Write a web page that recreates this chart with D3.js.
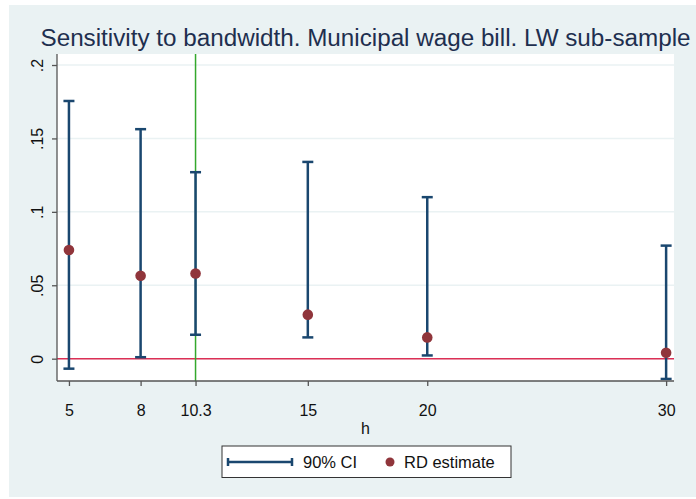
<!DOCTYPE html>
<html lang="en">
<head>
    <meta charset="utf-8">
    <title>Sensitivity to bandwidth</title>
    <style>
        body { margin: 0; background: #fff; }
        text { font-family: "Liberation Sans", Arial, sans-serif; fill: #111; }
    </style>
</head>
<body>
<script src="https://cdn.jsdelivr.net/npm/d3@7"></script>
<script>
    // data
    var bandwidths = [5, 8, 10.3, 15, 20, 30];
    var estimates = [0.074, 0.0565, 0.058, 0.030, 0.0145, 0.004];
    var ciLower = [-0.0068, 0.001, 0.0163, 0.0145, 0.0022, -0.0138];
    var ciUpper = [0.1755, 0.1563, 0.127, 0.134, 0.110, 0.077];
    var xTicks = [5, 8, 10.3, 15, 20, 30];
    var yTicks = [0, 0.05, 0.1, 0.15, 0.2];
    var yTickLabels = ["0", ".05", ".1", ".15", ".2"];
    var optimalH = 10.3;

    var W = 696, H = 499;
    var margin = {top: 54, right: 22, bottom: 118, left: 57},
        width = W - margin.left - margin.right,
        height = H - margin.top - margin.bottom;

    var x = d3.scaleLinear().domain([4.5, 30.33]).range([0, width]);
    var y = d3.scaleLinear().domain([-0.0152, 0.2075]).range([height, 0]);

    var svg = d3.select("body").append("svg")
        .attr("width", W)
        .attr("height", H);

    // outer background
    svg.append("rect")
        .attr("x", 9).attr("y", 5)
        .attr("width", W - 9).attr("height", H - 7)
        .attr("fill", "#eaf2f3");

    var g = svg.append("g")
        .attr("transform", "translate(" + margin.left + "," + margin.top + ")");

    g.append("rect")
        .attr("width", width).attr("height", height)
        .attr("fill", "#fff");

    // grid lines
    g.selectAll(".grid")
        .data(yTicks)
        .enter().append("line")
        .attr("x1", 0).attr("x2", width)
        .attr("y1", function(d) { return y(d); })
        .attr("y2", function(d) { return y(d); })
        .attr("stroke", "#eaf2f3")
        .attr("stroke-width", 1.5);

    // zero line
    g.append("line")
        .attr("x1", 0).attr("x2", width)
        .attr("y1", y(0)).attr("y2", y(0))
        .attr("stroke", "#dc2f55")
        .attr("stroke-width", 1.5);

    // optimal bandwidth line
    g.append("line")
        .attr("x1", x(optimalH)).attr("x2", x(optimalH))
        .attr("y1", 0).attr("y2", height)
        .attr("stroke", "#34a82c")
        .attr("stroke-width", 1.5);

    // confidence intervals
    var ci = g.selectAll(".ci")
        .data(bandwidths)
        .enter().append("g")
        .attr("class", "ci")
        .attr("stroke", "#1a476f")
        .attr("stroke-width", 2.5);
    ci.append("line")
        .attr("x1", function(d) { return x(d); })
        .attr("x2", function(d) { return x(d); })
        .attr("y1", function(d, i) { return y(ciLower[i]); })
        .attr("y2", function(d, i) { return y(ciUpper[i]); });
    ci.append("line")
        .attr("x1", function(d) { return x(d) - 5.5; })
        .attr("x2", function(d) { return x(d) + 5.5; })
        .attr("y1", function(d, i) { return y(ciLower[i]); })
        .attr("y2", function(d, i) { return y(ciLower[i]); });
    ci.append("line")
        .attr("x1", function(d) { return x(d) - 5.5; })
        .attr("x2", function(d) { return x(d) + 5.5; })
        .attr("y1", function(d, i) { return y(ciUpper[i]); })
        .attr("y2", function(d, i) { return y(ciUpper[i]); });

    // point estimates
    g.selectAll(".dot")
        .data(bandwidths)
        .enter().append("circle")
        .attr("cx", function(d) { return x(d); })
        .attr("cy", function(d, i) { return y(estimates[i]); })
        .attr("r", 5.3)
        .attr("fill", "#90353b");

    // axes
    var xAxis = g.append("g")
        .attr("transform", "translate(0," + height + ")")
        .call(d3.axisBottom(x).tickValues(xTicks).tickSize(5).tickPadding(19)
            .tickFormat(function(d) { return String(d); }));
    var yAxis = g.append("g")
        .call(d3.axisLeft(y).tickValues(yTicks).tickSize(5).tickPadding(0)
            .tickFormat(function(d, i) { return yTickLabels[i]; }));

    [xAxis, yAxis].forEach(function(ax) {
        ax.select(".domain").attr("stroke", "#555").attr("stroke-width", 1.3);
        ax.selectAll(".tick line").attr("stroke", "#555").attr("stroke-width", 1.3);
        ax.selectAll("text").style("font-size", "16px").attr("fill", "#111");
    });
    // Stata-like rotated y labels
    yAxis.selectAll(".tick text")
        .attr("x", null).attr("dy", null)
        .attr("text-anchor", "middle")
        .attr("transform", "translate(-14,0) rotate(-90)");
    xAxis.select(".domain").attr("d", "M0,0H" + width);
    yAxis.select(".domain").attr("d", "M0,0V" + height);

    // axis title
    g.append("text")
        .attr("x", width / 2)
        .attr("y", height + 53)
        .attr("text-anchor", "middle")
        .style("font-size", "16px")
        .text("h");

    // title
    svg.append("text")
        .attr("x", margin.left + width / 2)
        .attr("y", 46)
        .attr("text-anchor", "middle")
        .style("fill", "#1e2f4f")
        .style("font-size", "23px")
        .attr("textLength", 650)
        .attr("lengthAdjust", "spacingAndGlyphs")
        .text("Sensitivity to bandwidth. Municipal wage bill. LW sub-sample");

    // legend
    var leg = svg.append("g").attr("transform", "translate(222,446)");
    leg.append("rect")
        .attr("width", 289).attr("height", 31.5)
        .attr("fill", "#fff")
        .attr("stroke", "#333")
        .attr("stroke-width", 1);
    var legLine = leg.append("g").attr("stroke", "#1a476f").attr("stroke-width", 2.5);
    legLine.append("line").attr("x1", 6).attr("x2", 70).attr("y1", 16).attr("y2", 16);
    legLine.append("line").attr("x1", 6).attr("x2", 6).attr("y1", 12).attr("y2", 20);
    legLine.append("line").attr("x1", 70).attr("x2", 70).attr("y1", 12).attr("y2", 20);
    leg.append("text")
        .attr("x", 81).attr("y", 22)
        .style("font-size", "16.5px")
        .text("90% CI");
    leg.append("circle")
        .attr("cx", 168).attr("cy", 16).attr("r", 4.5)
        .attr("fill", "#90353b");
    leg.append("text")
        .attr("x", 182).attr("y", 22)
        .style("font-size", "16.5px")
        .text("RD estimate");
</script>
</body>
</html>
